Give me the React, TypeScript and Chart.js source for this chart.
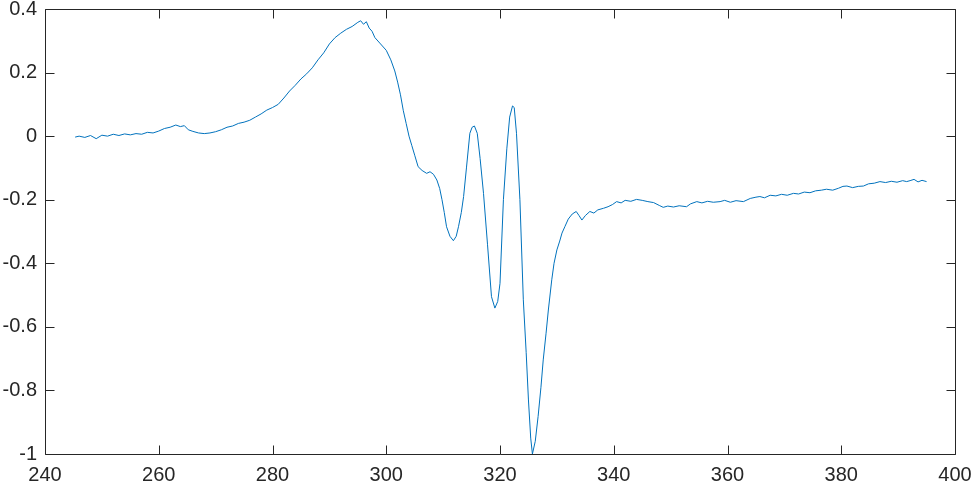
import React, { useEffect, useRef } from "react";
import { Chart, registerables } from "chart.js";

Chart.register(...registerables);

const xTickLabels = [240, 260, 280, 300, 320, 340, 360, 380, 400];
const yTickLabels = [-1, -0.8, -0.6, -0.4, -0.2, 0, 0.2, 0.4];

const fieldValues = [
  245.3, 246, 247, 248, 249, 250, 251, 252, 253, 254, 255, 256, 257, 258, 259, 260,
  261, 262, 263, 263.8, 264.5, 265.2, 266, 267, 268, 269, 270, 271, 272, 273, 274, 275,
  276, 277, 278, 279, 280, 281, 282, 283, 284, 285, 286, 287, 288, 289, 290, 291, 292,
  293, 294, 295, 295.5, 296, 296.5, 297, 297.5, 298, 299, 300, 300.8, 301.5, 302, 302.5,
  303, 303.5, 304, 304.5, 305, 305.6, 306.3, 307.1, 307.7, 308.3, 308.9, 309.4, 309.8,
  310.2, 310.6, 311.2, 311.8, 312.3, 312.7, 313.2, 313.6, 314.1, 314.7, 315.1, 315.5,
  316.0, 316.5, 317.1, 317.8, 318.5, 319.1, 319.6, 320.0, 320.6, 321.2, 321.7, 322.2,
  322.5, 322.9, 323.5, 324.1, 324.6, 325.0, 325.4, 325.7, 326.2, 326.7, 327.2, 327.6,
  328.1, 328.5, 329.1, 329.5, 330.0, 330.5, 330.9, 331.4, 332.0, 332.7, 333.4, 333.9,
  334.4, 335.0, 335.8, 336.5, 337.2, 338.2, 339.0, 339.8, 340.5, 341.3, 342.0, 343.0,
  344.0, 345.0, 346.0, 347.0, 348.0, 348.7, 349.5, 350.5, 351.5, 352.8, 353.5, 354.6,
  355.5, 356.5, 357.5, 358.7, 359.5, 360.5, 361.5, 362.8, 364.0, 365.0, 365.7, 366.5,
  367.5, 368.5, 369.5, 370.5, 371.6, 372.5, 373.5, 374.5, 375.5, 376.5, 377.4, 378.5,
  379.5, 380.3, 381.0, 382.0, 383.0, 383.9, 384.8, 385.8, 386.8, 387.8, 388.8, 389.8,
  390.8, 391.5, 392.1, 392.8, 393.5, 394.2, 395.0,
];

const signalValues = [
  -0.003, 0.0, -0.004, 0.002, -0.008, 0.003, 0.0, 0.006, 0.002, 0.007, 0.004, 0.008,
  0.006, 0.012, 0.01, 0.016, 0.024, 0.028, 0.035, 0.03, 0.033, 0.02, 0.015, 0.01, 0.008,
  0.01, 0.014, 0.02, 0.028, 0.032, 0.04, 0.044, 0.05, 0.06, 0.07, 0.082, 0.09, 0.1,
  0.12, 0.142, 0.16, 0.18, 0.196, 0.215, 0.24, 0.262, 0.29, 0.31, 0.324, 0.336, 0.345,
  0.358, 0.363, 0.352, 0.36, 0.34, 0.33, 0.31, 0.29, 0.27, 0.24, 0.205, 0.17, 0.13,
  0.08, 0.04, 0.0, -0.03, -0.06, -0.096, -0.108, -0.117, -0.112, -0.12, -0.138, -0.165,
  -0.2, -0.24, -0.285, -0.315, -0.329, -0.315, -0.285, -0.24, -0.19, -0.1, 0.009, 0.028,
  0.032, 0.009, -0.07, -0.18, -0.34, -0.505, -0.541, -0.52, -0.463, -0.2, -0.04, 0.06,
  0.095, 0.09, 0.009, -0.2, -0.515, -0.68, -0.83, -0.95, -1.0, -0.96, -0.882, -0.79,
  -0.704, -0.62, -0.547, -0.452, -0.4, -0.358, -0.33, -0.305, -0.285, -0.261, -0.245,
  -0.237, -0.25, -0.264, -0.25, -0.237, -0.242, -0.232, -0.227, -0.222, -0.215, -0.206,
  -0.21, -0.202, -0.205, -0.199, -0.202, -0.206, -0.209, -0.218, -0.224, -0.22, -0.223,
  -0.219, -0.222, -0.213, -0.206, -0.21, -0.205, -0.208, -0.206, -0.202, -0.208, -0.203,
  -0.206, -0.196, -0.192, -0.19, -0.194, -0.186, -0.188, -0.183, -0.186, -0.18, -0.182,
  -0.176, -0.178, -0.172, -0.17, -0.167, -0.17, -0.164, -0.158, -0.157, -0.162, -0.158,
  -0.157, -0.15, -0.148, -0.143, -0.146, -0.142, -0.145, -0.14, -0.143, -0.14, -0.136,
  -0.144, -0.139, -0.143,
];

const AXIS_COLOR = "#262626";
const FONT = "'Liberation Sans', Arial, Helvetica, sans-serif";

const boxPlugin = {
  id: "matlabBox",
  afterDraw(chart: any) {
    const { ctx, chartArea } = chart;
    const { left, right, top, bottom } = chartArea;
    const xs = chart.scales.x;
    const ys = chart.scales.y;
    const tl = 9;
    ctx.save();
    ctx.strokeStyle = AXIS_COLOR;
    ctx.lineWidth = 1;
    const L = Math.round(left) + 0.5;
    const R = Math.round(right) + 0.5;
    const T = Math.round(top) + 0.5;
    const B = Math.round(bottom) + 0.5;
    ctx.beginPath();
    ctx.rect(L, T, R - L, B - T);
    xs.ticks.forEach((t: any) => {
      const px = Math.round(xs.getPixelForValue(t.value)) + 0.5;
      ctx.moveTo(px, B);
      ctx.lineTo(px, B - tl);
      ctx.moveTo(px, T);
      ctx.lineTo(px, T + tl);
    });
    ys.ticks.forEach((t: any) => {
      const py = Math.round(ys.getPixelForValue(t.value)) + 0.5;
      ctx.moveTo(L, py);
      ctx.lineTo(L + tl, py);
      ctx.moveTo(R, py);
      ctx.lineTo(R - tl, py);
    });
    ctx.stroke();
    ctx.restore();
  },
};

export default function App() {
  const ref = useRef<HTMLCanvasElement | null>(null);

  useEffect(() => {
    if (!ref.current) return;
    const points = fieldValues.map((x, i) => ({ x, y: signalValues[i] }));
    const chart = new Chart(ref.current, {
      type: "line",
      data: {
        datasets: [
          {
            data: points,
            borderColor: "#0072BD",
            borderWidth: 1,
            pointRadius: 0,
            tension: 0,
            fill: false,
          },
        ],
      },
      options: {
        responsive: false,
        animation: false,
        events: [],
        layout: { padding: { left: 0, top: 9, right: 19, bottom: 0 } },
        plugins: { legend: { display: false }, tooltip: { enabled: false } },
        scales: {
          x: {
            type: "linear",
            min: xTickLabels[0],
            max: xTickLabels[xTickLabels.length - 1],
            afterBuildTicks: (s: any) => {
              s.ticks = xTickLabels.map((v) => ({ value: v }));
            },
            afterFit: (s: any) => {
              s.height = 33;
              s.paddingLeft = 0;
              s.paddingRight = 0;
            },
            grid: { display: false, drawTicks: false },
            border: { display: false },
            ticks: {
              padding: 9,
              color: AXIS_COLOR,
              font: { family: FONT, size: 20 },
              maxRotation: 0,
              autoSkip: false,
              callback: (v: any) => String(v),
            },
          },
          y: {
            type: "linear",
            min: yTickLabels[0],
            max: yTickLabels[yTickLabels.length - 1],
            afterBuildTicks: (s: any) => {
              s.ticks = yTickLabels.map((v) => ({ value: v }));
            },
            afterFit: (s: any) => {
              s.width = 45;
              s.paddingTop = 0;
              s.paddingBottom = 0;
            },
            grid: { display: false, drawTicks: false },
            border: { display: false },
            ticks: {
              padding: 8,
              color: AXIS_COLOR,
              font: { family: FONT, size: 20 },
              autoSkip: false,
              callback: (v: any) => String(Number(Number(v).toFixed(1))),
            },
          },
        },
      },
      plugins: [boxPlugin],
    });
    return () => chart.destroy();
  }, []);

  return (
    <div style={{ position: "fixed", left: 0, top: 0, width: 974, height: 487, background: "#fff" }}>
      <canvas ref={ref} width={974} height={487} />
    </div>
  );
}
